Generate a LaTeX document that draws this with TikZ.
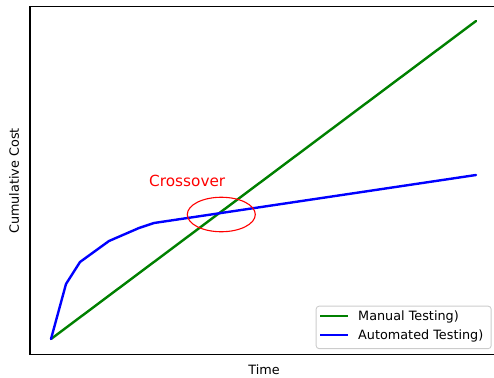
\documentclass[tikz,border=0pt]{standalone}
\usepackage{fontspec}
\usetikzlibrary{shapes.geometric}
\setmainfont{DejaVu Sans}
\definecolor{mplgreen}{HTML}{008000}
\definecolor{mplblue}{HTML}{0000FF}
\definecolor{mplred}{HTML}{FF0000}
\definecolor{legedge}{HTML}{CCCCCC}
\begin{document}
\begin{tikzpicture}[x=1pt,y=-1pt,
  spine/.style={line width=1.1pt,black},
  series/.style={line width=2.4pt,line join=round,line cap=round},
  lbl/.style={font=\fontsize{12.8}{14}\selectfont,inner sep=0pt},
  legbox/.style={draw=legedge,line width=0.9pt,fill=white,fill opacity=0.8,rounded corners=3pt}]
  \useasboundingbox (0,0) rectangle (494,377);
  % axes frame
  \coordinate (tl) at (30,6.5);
  \coordinate (bl) at (30,354.5);
  \coordinate (tr) at (494,6.5);
  \coordinate (br) at (494,354.5);
  \draw[spine] (tr) -- (tl) -- (bl) -- (br);
  % manual testing: linear cost
  \draw[series,mplgreen] (51,339) -- (476,21);
  % automated testing: high setup, slow growth
  \draw[series,mplblue] (51,339) -- (66,284) -- (80,262) -- (109,241) -- (139,228) -- (154,223) -- (476,175);
  % crossover marker
  \node[draw=mplred,line width=1.1pt,ellipse,minimum width=68pt,minimum height=34.5pt,inner sep=0pt] (cross) at (221.3,214.5) {};
  \node[font=\fontsize{15.3}{17}\selectfont,text=mplred,anchor=base west,inner sep=0pt] (crosslbl) at (149,186.5) {Crossover};
  % axis labels
  \node[lbl,anchor=base] (xlab) at (264,374.5) {Time};
  \node[lbl,rotate=90,anchor=center] (ylab) at (14,181) {Cumulative Cost};
  % legend
  \node[legbox,minimum width=175pt,minimum height=42.5pt,inner sep=0pt,anchor=north west] (leg) at (315.7,305.7) {};
  \coordinate (m1) at (320,316);
  \coordinate (m2) at (348,316);
  \coordinate (a1) at (320,335);
  \coordinate (a2) at (348,335);
  \draw[series,mplgreen,line cap=butt] (m1) -- (m2);
  \draw[series,mplblue,line cap=butt] (a1) -- (a2);
  \node[lbl,anchor=base west] (mlab) at (358,320.6) {Manual Testing)};
  \node[lbl,anchor=base west] (alab) at (358,339.6) {Automated Testing)};
\end{tikzpicture}
\end{document}
